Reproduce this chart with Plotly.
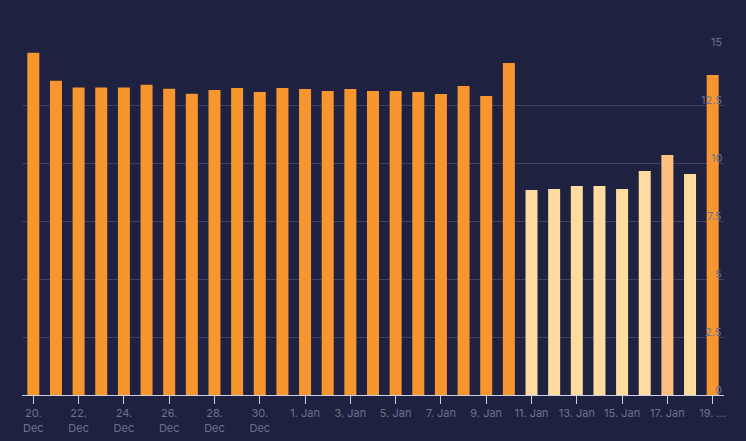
import plotly.graph_objects as go

dates = ["20. Dec", "21. Dec", "22. Dec", "23. Dec", "24. Dec", "25. Dec", "26. Dec", "27. Dec",
         "28. Dec", "29. Dec", "30. Dec", "31. Dec", "1. Jan", "2. Jan", "3. Jan", "4. Jan",
         "5. Jan", "6. Jan", "7. Jan", "8. Jan", "9. Jan", "10. Jan", "11. Jan", "12. Jan",
         "13. Jan", "14. Jan", "15. Jan", "16. Jan", "17. Jan", "18. Jan", "19. Jan"]
values = [14.75, 13.54, 13.25, 13.25, 13.25, 13.37, 13.2, 12.99,
          13.15, 13.23, 13.06, 13.23, 13.19, 13.1, 13.19, 13.1,
          13.1, 13.06, 12.97, 13.32, 12.89, 14.31, 8.84, 8.88,
          9.01, 9.01, 8.88, 9.66, 10.34, 9.53, 13.79]
colors = ["#F7962F"] * 22 + ["#FEDB9F"] * 6 + ["#FDC081", "#FEDB9F", "#F7962F"]
tick_vals = dates[::2]
tick_text = ["20.<br>Dec", "22.<br>Dec", "24.<br>Dec", "26.<br>Dec", "28.<br>Dec", "30.<br>Dec",
             "1. Jan", "3. Jan", "5. Jan", "7. Jan", "9. Jan", "11. Jan", "13. Jan", "15. Jan",
             "17. Jan", "19. ..."]
y_ticks = [0, 2.5, 5, 7.5, 10, 12.5, 15]
y_text = ["0", "2.5", "5", "7.5", "10", "12.5", "15"]

label_color = "#6E7291"

fig = go.Figure(go.Bar(x=dates, y=values, marker=dict(color=colors, line=dict(width=0)),
                       hoverinfo="x+y"))
fig.update_layout(
    width=746, height=441,
    paper_bgcolor="#1E2140", plot_bgcolor="#1E2140",
    margin=dict(l=22, r=22, t=47, b=46, autoexpand=False),
    bargap=0.47,
    showlegend=False,
    font=dict(family="Inter, sans-serif", size=11, color=label_color),
)
fig.update_xaxes(
    type="category", tickmode="array", tickvals=tick_vals, ticktext=tick_text,
    tickangle=0, automargin=False,
    showline=True, linecolor="#CDD0E3", linewidth=1,
    ticks="outside", ticklen=8, tickcolor="#CDD0E3", tickwidth=1,
    showgrid=False, range=[-0.5, 30.5],
    tickfont=dict(size=11, color=label_color),
)
fig.update_yaxes(
    side="right", range=[0, 15], tickmode="array", tickvals=y_ticks,
    showticklabels=False, automargin=False,
    showgrid=True, gridcolor="#3E4263", gridwidth=1, zeroline=False,
    showline=False, ticks="",
)
for v, t in zip(y_ticks, y_text):
    fig.add_annotation(x=1, xref="paper", xanchor="right", y=v, yref="y", yanchor="bottom",
                       yshift=-4, text=t, showarrow=False,
                       font=dict(size=11, color=label_color))
fig.write_html("out.html", config={"displayModeBar": False},
               post_script="document.body.style.margin='0';document.body.style.background='#1E2140';")
